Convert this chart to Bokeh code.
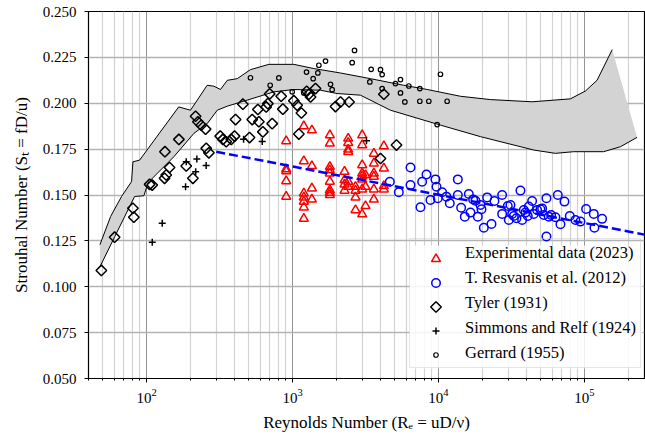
from math import pi, log10

from bokeh.plotting import figure
from bokeh.models import (Range1d, FixedTicker, NumeralTickFormatter,
                          LogTickFormatter, Legend, LegendItem)
from bokeh.embed import file_html
from bokeh.resources import INLINE

SERIF = "serif"

# ---- Experimental data (2023): Reynolds number / Strouhal number ----
exp_re = [905, 905, 905, 905, 905,
          1195, 1195, 1195, 1195, 1195, 1195, 1195,
          1357, 1357, 1357, 1357,
          1802, 1802, 1802, 1802, 1802, 1802, 1802, 1802, 1802,
          2271, 2271, 2271, 2271,
          2406, 2406, 2406, 2406, 2406, 2406,
          2701, 2701, 2701, 2701,
          3001, 3001, 3001, 3001, 3001, 3001, 3001, 3001,
          3162, 3162, 3162,
          3607, 3607, 3607, 3607, 3607, 3607,
          4224, 4224, 4224, 4224]
exp_st = [0.1794, 0.1641, 0.1630, 0.1576, 0.1491,
          0.1875, 0.1685, 0.1509, 0.1487, 0.1464, 0.1433, 0.1371,
          0.1853, 0.1658, 0.1536, 0.1476,
          0.1826, 0.1781, 0.1654, 0.1636, 0.1618, 0.1573, 0.1527, 0.1513, 0.1500,
          0.1627, 0.1582, 0.1558, 0.1524,
          0.1808, 0.1784, 0.1748, 0.1735, 0.1573, 0.1545,
          0.1545, 0.1524, 0.1487, 0.1418,
          0.1826, 0.1772, 0.1663, 0.1618, 0.1603, 0.1585, 0.1531, 0.1395,
          0.1609, 0.1545, 0.1440,
          0.1726, 0.1672, 0.1618, 0.1600, 0.1531, 0.1476,
          0.1766, 0.1645, 0.1549, 0.1531]

# ---- T. Resvanis et al. (2012) ----
res_re = [4643, 5350, 6431, 6431, 7527, 7729, 8277, 8814, 9539, 9690,
          9896, 10596, 11344, 11956, 13568, 13568, 14298, 15149, 16140, 16569,
          17281, 17928, 18600, 19400, 19709, 20450, 21549, 23072, 24187, 27296,
          27296, 29850, 30328, 31136, 31962, 32809, 34222, 36449, 37420, 38418,
          39440, 40918, 41573, 43816, 44979, 47405, 49958, 51288, 52652, 54920,
          54920, 56982, 59118, 63300, 65690, 68520, 72970, 79360, 86780, 93900,
          102660, 115880, 117100, 132130]
res_st = [0.1572, 0.1515, 0.1650, 0.1554, 0.1433, 0.1572, 0.1612, 0.1473, 0.1585, 0.1545,
          0.1482, 0.1515, 0.1491, 0.1455, 0.1585, 0.1500, 0.1431, 0.1382, 0.1505, 0.1404,
          0.1476, 0.1469, 0.1382, 0.1446, 0.1422, 0.1322, 0.1487, 0.1342, 0.1467, 0.1500,
          0.1397, 0.1440, 0.1364, 0.1446, 0.1397, 0.1386, 0.1373, 0.1524, 0.1364, 0.1418,
          0.1404, 0.1386, 0.1437, 0.1467, 0.1397, 0.1418, 0.1422, 0.1427, 0.1391, 0.1482,
          0.1274, 0.1382, 0.1391, 0.1379, 0.1500, 0.1341, 0.1464, 0.1386, 0.1364, 0.1355,
          0.1424, 0.1397, 0.1322, 0.1370]

# ---- Tyler (1931) ----
tyler_re = [49.0, 60.4, 80.6, 81.8, 104.9, 109.3, 132.8, 136.3, 143.7, 133.6,
            166.5, 186.9, 207.7, 216.6, 224.7, 236.8, 253.6, 256.3, 267.3, 319.6,
            333.3, 351.3, 380.2, 400.6, 407, 456.9, 507.5, 529.3, 578.9, 588,
            626.3, 660, 677.6, 697, 725.6, 836.3, 858.6, 1021, 1076, 1105,
            1150, 1250, 1294, 1329, 1437, 1970, 2132, 2440, 4006, 4224, 5156]
tyler_st = [0.1089, 0.1270, 0.1428, 0.1379, 0.1558, 0.1554, 0.1591, 0.1609, 0.1650, 0.1736,
            0.1803, 0.1658, 0.1591, 0.1929, 0.1899, 0.1880, 0.1859, 0.1754, 0.1730, 0.1821,
            0.1803, 0.1790, 0.1803, 0.1821, 0.1911, 0.1995, 0.1813, 0.1911, 0.1966, 0.1899,
            0.1844, 0.1980, 0.1998, 0.2051, 0.1889, 0.2038, 0.1968, 0.2014, 0.1989, 0.1832,
            0.1947, 0.2065, 0.2049, 0.2034, 0.2080, 0.1982, 0.2007, 0.2007, 0.1699, 0.2049, 0.1772]

# ---- Simmons and Relf (1924) ----
sr_re = [109.4, 128, 185, 187, 217, 221, 256, 462, 620, 3212]
sr_st = [0.1243, 0.1346, 0.1545, 0.1681, 0.1627, 0.1696, 0.1661, 0.1804, 0.1792, 0.1795]

# ---- Gerrard (1955) ----
ger_re = [515, 703, 806, 995, 1195, 1247, 1385, 1491, 1515, 1683,
          1821, 1869, 2563, 2659, 3386, 3458, 4006, 4112, 4112, 5075,
          5492, 5492, 5882, 6264, 7449, 7449, 8586, 9790, 10320, 11465]
ger_st = [0.2139, 0.2098, 0.2138, 0.2062, 0.2056, 0.2170, 0.2134, 0.2165, 0.2207, 0.2230,
          0.2103, 0.2074, 0.2221, 0.2288, 0.2116, 0.2185, 0.2183, 0.2156, 0.2080, 0.2107,
          0.2129, 0.2056, 0.2007, 0.2094, 0.2080, 0.2011, 0.2011, 0.1884, 0.2158, 0.2011]

# ---- Envelope of the literature scatter (upper and lower bounds) ----
band_upper_re = [47.9, 56.7, 67.4, 78.9, 80.6, 89.6, 166, 200, 260, 289,
                 321, 357, 418, 515, 688, 1020, 1400, 2130, 3420, 5780,
                 8370, 14150, 22700, 43800, 80200, 101700, 122000, 155000]
band_upper_st = [0.1229, 0.1383, 0.1492, 0.1573, 0.1681, 0.1690, 0.1980, 0.1962, 0.2098, 0.2093,
                 0.2075, 0.2125, 0.2134, 0.2183, 0.2212, 0.2212, 0.2189, 0.2165, 0.2134, 0.2098,
                 0.2075, 0.2038, 0.2020, 0.2008, 0.2024, 0.2067, 0.2125, 0.2292]
band_lower_re = [48, 60.7, 82.8, 95.9, 102, 104, 154, 211, 261, 305,
                 357, 489, 745, 1020, 1555, 2020, 2920, 4690, 10300, 19400,
                 45000, 63200, 84400, 135500, 176400, 229500]
band_lower_st = [0.1110, 0.1275, 0.1492, 0.1496, 0.1564, 0.1573, 0.1709, 0.1836, 0.1890, 0.1962,
                 0.1984, 0.2017, 0.2062, 0.2075, 0.2071, 0.2053, 0.2044, 0.1962, 0.1881, 0.1818,
                 0.1745, 0.1727, 0.1736, 0.1736, 0.1763, 0.1814]

# ---- Straight trend line (semi-log) ----
fit_re = [300, 258000]
fit_st = [0.1736, 0.1284]

# axis ticks
x_major = [1e2, 1e3, 1e4, 1e5]
x_minor = [m * d for d in (10, 100, 1000, 10000, 100000) for m in range(2, 10)]
y_major = [0.050, 0.075, 0.100, 0.125, 0.150, 0.175, 0.200, 0.225, 0.250]

legend_labels = ["Experimental data (2023)", "T. Resvanis et al. (2012)",
                 "Tyler (1931)", "Simmons and Relf (1924)", "Gerrard (1955)"]

# frame geometry (pixels)
W, H = 645, 438
B_LEFT, B_RIGHT, B_TOP, B_BOTTOM = 88, 1, 11, 60
X0, X1 = 40, 2.58e5
Y0, Y1 = 0.05, 0.25

p = figure(width=W, height=H, x_axis_type="log",
           x_range=Range1d(X0, X1), y_range=Range1d(Y0, Y1),
           output_backend="svg", toolbar_location=None,
           min_border_left=B_LEFT, min_border_right=B_RIGHT,
           min_border_top=B_TOP, min_border_bottom=B_BOTTOM,
           x_axis_label="Reynolds Number (Rₑ = uD/ν)",
           y_axis_label="Strouhal Number (Sₜ = fD/u)")
p.background_fill_color = "white"
p.border_fill_color = "white"
p.outline_line_color = "black"
p.outline_line_width = 1.2

# axes
p.xaxis.ticker = FixedTicker(ticks=x_major, minor_ticks=x_minor)
p.xaxis.formatter = LogTickFormatter()
p.yaxis.ticker = FixedTicker(ticks=y_major, minor_ticks=[])
p.yaxis.formatter = NumeralTickFormatter(format="0.000")
for ax in (p.xaxis[0], p.yaxis[0]):
    ax.axis_line_color = "black"
    ax.major_tick_line_color = "black"
    ax.minor_tick_line_color = "black"
    ax.major_tick_in = 0
    ax.major_tick_out = 4
    ax.minor_tick_in = 0
    ax.minor_tick_out = 2
    ax.major_label_text_font = SERIF
    ax.major_label_text_font_size = "15px"
    ax.major_label_text_color = "black"
    ax.axis_label_text_font = SERIF
    ax.axis_label_text_font_size = "17px"
    ax.axis_label_text_font_style = "normal"
    ax.axis_label_text_color = "black"
p.yaxis.minor_tick_line_color = None
p.yaxis.major_label_standoff = 8
p.yaxis.axis_label_standoff = 9
p.xaxis.major_label_standoff = 6
p.xaxis.axis_label_standoff = 7

# grid
p.xgrid.grid_line_color = "#939393"
p.xgrid.grid_line_width = 1
p.xgrid.minor_grid_line_color = "#d2d2d2"
p.xgrid.minor_grid_line_width = 1.2
p.ygrid.grid_line_color = "#b3b3b3"
p.ygrid.grid_line_width = 1.3

# envelope band
poly_x = band_upper_re + band_lower_re[::-1]
poly_y = band_upper_st + band_lower_st[::-1]
p.patch(poly_x, poly_y, fill_color="#d3d3d3", line_color=None)
p.line(band_upper_re, band_upper_st, line_color="black", line_width=1)
p.line(band_lower_re, band_lower_st, line_color="black", line_width=1)

# marker styles per series
styles = [
    dict(marker="triangle", size=9, line_color="#ff0000", line_width=1.5, angle=0),
    dict(marker="circle", size=8.5, line_color="#0000ff", line_width=1.5, angle=0),
    dict(marker="square", size=7.5, line_color="black", line_width=1.5, angle=pi / 4),
    dict(marker="cross", size=7, line_color="black", line_width=1.5, angle=0),
    dict(marker="circle", size=4.5, line_color="black", line_width=1.2, angle=0),
]
series = [(exp_re, exp_st), (res_re, res_st), (tyler_re, tyler_st),
          (sr_re, sr_st), (ger_re, ger_st)]
for (xs, ys), st in zip(series, styles):
    p.scatter(xs, ys, fill_color=None, **st)

# trend line
p.line(fit_re, fit_st, line_color="#0000ff", line_width=2.5, line_dash="9 4")

# legend layout (pixels, relative to the frame's lower-left corner)
LEG_X, LEG_Y = 321, 10
PAD, ROW_H, GAP, GLYPH_W, STANDOFF = 4, 19, 5, 45, 6
LEG_W = 233
fw = W - B_LEFT - B_RIGHT
fh = H - B_TOP - B_BOTTOM
n = len(legend_labels)
box_h = 2 * PAD + n * ROW_H + (n - 1) * GAP


def px_to_x(px):
    return 10 ** (log10(X0) + px / fw * (log10(X1) - log10(X0)))


def px_to_y(py):
    return Y0 + py / fh * (Y1 - Y0)


# translucent white panel behind the legend
p.quad(left=[px_to_x(LEG_X)], right=[px_to_x(LEG_X + LEG_W)],
       bottom=[px_to_y(LEG_Y)], top=[px_to_y(LEG_Y + box_h)],
       fill_color="white", fill_alpha=0.85, line_color=None)

# legend keys drawn with each series' own marker style
key_x = px_to_x(LEG_X + PAD + GLYPH_W / 2)
for i, st in enumerate(styles):
    ky = px_to_y(LEG_Y + box_h - PAD - ROW_H / 2 - i * (ROW_H + GAP))
    p.scatter([key_x], [ky], fill_color=None, **st)

# legend box and labels
dummy = [p.scatter([], [], marker="circle", size=1, fill_alpha=0, line_alpha=0)
         for _ in legend_labels]
legend = Legend(items=[LegendItem(label=lab, renderers=[r])
                       for lab, r in zip(legend_labels, dummy)],
                location=(LEG_X, LEG_Y))
legend.label_text_font = SERIF
legend.label_text_font_size = "16.5px"
legend.label_text_color = "black"
legend.glyph_width = GLYPH_W
legend.glyph_height = ROW_H
legend.label_height = ROW_H
legend.label_standoff = STANDOFF
legend.spacing = GAP
legend.padding = PAD
legend.margin = 0
legend.border_line_color = "#cccccc"
legend.border_line_width = 1
legend.background_fill_alpha = 0
p.add_layout(legend)

open("out.html", "w").write(file_html(p, INLINE))
